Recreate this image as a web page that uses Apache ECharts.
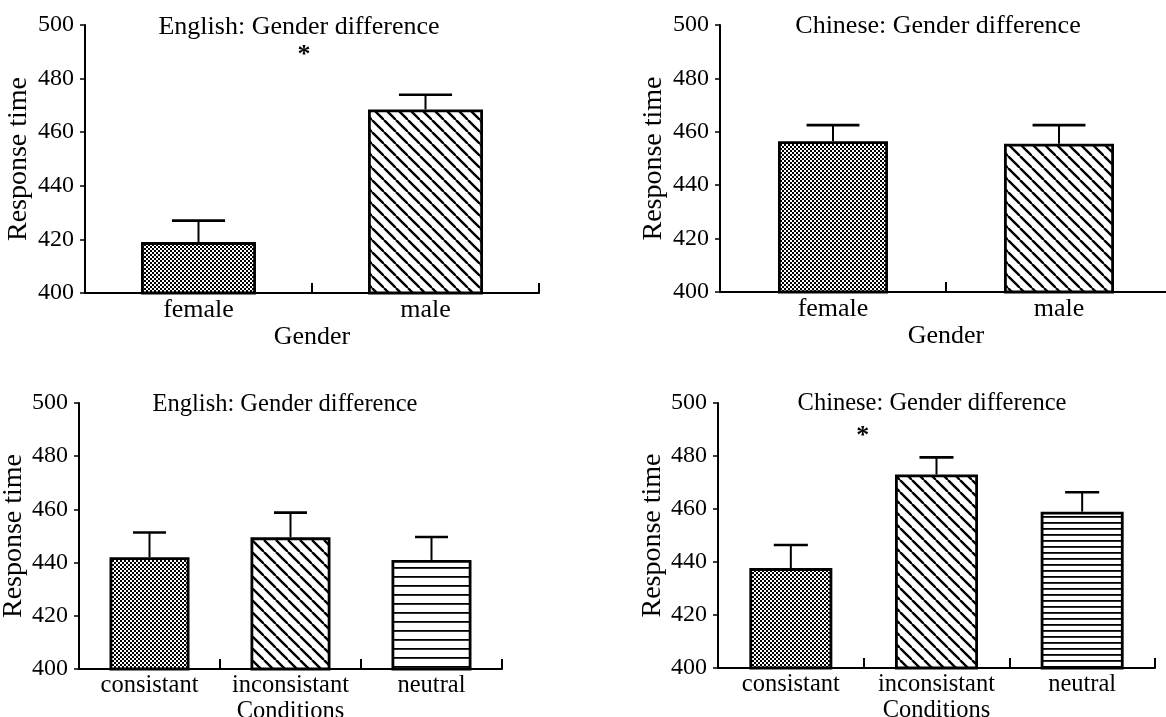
<!DOCTYPE html>
<html>
<head>
<meta charset="utf-8">
<script src="https://cdn.jsdelivr.net/npm/echarts@6/dist/echarts.min.js"></script>
<style>
html,body{margin:0;padding:0;background:#fff;}
#main{width:1166px;height:717px;}
</style>
</head>
<body>
<div id="main"></div>
<script>
// ---- data ----
const genderCats = ['female', 'male'];
const condCats = ['consistant', 'inconsistant', 'neutral'];
const engGenderMean = [419, 468.5];
const engGenderErr = [8, 5.5];
const chiGenderMean = [456.5, 455.5];
const chiGenderErr = [6, 7];
const engCondMean = [442, 449.5, 441];
const engCondErr = [9.3, 9.3, 8.6];
const chiCondMean = [437.7, 473, 459];
const chiCondErr = [8.7, 6.5, 7.3];
const yTicks = [400, 420, 440, 460, 480, 500];
const panelTitles = ['English: Gender difference', 'Chinese: Gender difference', 'English: Gender difference', 'Chinese: Gender difference'];

// ---- patterns ----
function stipple() {
  const c = document.createElement('canvas'); c.width = 4; c.height = 4;
  const g = c.getContext('2d');
  g.fillStyle = '#fff'; g.fillRect(0, 0, 4, 4);
  g.fillStyle = '#000'; g.fillRect(0, 0, 2, 2); g.fillRect(2, 2, 2, 2);
  return c;
}
function hatch(p) {
  const c = document.createElement('canvas'); c.width = p; c.height = p;
  const g = c.getContext('2d');
  g.fillStyle = '#fff'; g.fillRect(0, 0, p, p);
  g.strokeStyle = '#000'; g.lineWidth = 2.4;
  for (const x0 of [-p, 0, p]) { g.beginPath(); g.moveTo(x0, 0); g.lineTo(x0 + p, p); g.stroke(); }
  return c;
}
function hlines(s) {
  const c = document.createElement('canvas'); c.width = 4; c.height = s;
  const g = c.getContext('2d');
  g.fillStyle = '#fff'; g.fillRect(0, 0, 4, s);
  g.fillStyle = '#000'; g.fillRect(0, 0, 4, 1.8);
  return c;
}
const pStip = { image: stipple(), repeat: 'repeat' };
const pHatch = { image: hatch(12), repeat: 'repeat' };
const pH3 = { image: hlines(9), repeat: 'repeat' };
const pH4 = { image: hlines(6), repeat: 'repeat' };

const FONT = 'Liberation Serif';

const panels = [
  { cats: genderCats, mean: engGenderMean, err: engGenderErr, grid: { left: 85, top: 25, width: 454, height: 268 }, barW: 115, fills: [pStip, pHatch], fs: 26, xName: 'Gender', nameGapY: 52 },
  { cats: genderCats, mean: chiGenderMean, err: chiGenderErr, grid: { left: 720, top: 25, width: 452, height: 267 }, barW: 110, fills: [pStip, pHatch], fs: 26, xName: 'Gender', nameGapY: 52 },
  { cats: condCats, mean: engCondMean, err: engCondErr, grid: { left: 79, top: 403, width: 423, height: 266 }, barW: 80, fills: [pStip, pHatch, pH3], fs: 24.5, xName: 'Conditions', nameGapY: 47 },
  { cats: condCats, mean: chiCondMean, err: chiCondErr, grid: { left: 718, top: 403, width: 437, height: 265 }, barW: 83, fills: [pStip, pHatch, pH4], fs: 24.5, xName: 'Conditions', nameGapY: 50 }
];

const grids = [], xAxes = [], yAxes = [], series = [];
panels.forEach((p, k) => {
  grids.push(Object.assign({ outerBoundsMode: 'none', containLabel: false }, p.grid));
  xAxes.push({
    type: 'category', gridIndex: k, data: p.cats, boundaryGap: true,
    axisLine: { show: true, lineStyle: { color: '#000', width: 2 } },
    axisTick: { show: true, inside: true, length: 10, alignWithLabel: false, lineStyle: { color: '#000', width: 2 }, interval: 0 },
    axisLabel: { color: '#000', fontFamily: FONT, fontSize: p.fs, margin: 4, interval: 0, hideOverlap: false },
    name: p.xName, nameLocation: 'middle', nameGap: 27,
    nameTextStyle: { color: '#000', fontFamily: FONT, fontSize: p.fs }
  });
  yAxes.push({
    type: 'value', gridIndex: k, min: 400, max: 500, interval: 20,
    axisLine: { show: true, lineStyle: { color: '#000', width: 2 } },
    axisTick: { show: true, length: 5, lineStyle: { color: '#000', width: 1.5 } },
    splitLine: { show: false },
    axisLabel: { color: '#000', fontFamily: FONT, fontSize: 24, margin: 11 },
    name: 'Response time', nameLocation: 'middle', nameGap: p.nameGapY, nameRotate: 90,
    nameTextStyle: { color: '#000', fontFamily: FONT, fontSize: 28 }
  });
  series.push({
    type: 'bar', xAxisIndex: k, yAxisIndex: k, barWidth: p.barW,
    data: p.mean.map((v, i) => ({ value: v, itemStyle: { color: p.fills[i] } })),
    itemStyle: { borderColor: '#000', borderWidth: 2.8 },
    silent: true, animation: false
  });
  series.push({
    type: 'custom', xAxisIndex: k, yAxisIndex: k, z: 1,
    data: p.mean.map((v, i) => [i, v, p.err[i]]),
    encode: { x: 0, y: 1 },
    renderItem: function (params, api) {
      const i = api.value(0), m = api.value(1), e = api.value(2);
      const b = api.coord([i, m]);
      const t = api.coord([i, m + e]);
      const half = api.size([1, 0])[0] * 0.117;
      return {
        type: 'group', children: [
          { type: 'line', shape: { x1: b[0], y1: b[1], x2: t[0], y2: t[1] }, style: { stroke: '#000', lineWidth: 2 } },
          { type: 'line', shape: { x1: t[0] - half, y1: t[1], x2: t[0] + half, y2: t[1] }, style: { stroke: '#000', lineWidth: 2.6 } }
        ]
      };
    },
    silent: true, animation: false
  });
});

const titlePos = [[299, 27, 26], [938, 26, 26], [285, 405, 24.5], [932, 404, 24.5]];
const chart = echarts.init(document.getElementById('main'), null, { renderer: 'canvas' });
chart.setOption({
  backgroundColor: '#fff', animation: false,
  grid: grids, xAxis: xAxes, yAxis: yAxes, series: series
});

// significance asterisks, placed between categories in data space
const stars = [{ k: 0, between: [0, 1], y: 489, dx: -8 }, { k: 3, between: [0, 1], y: 488, dx: -1 }];
const starGraphics = stars.map(s => {
  const a = chart.convertToPixel({ gridIndex: s.k }, [s.between[0], s.y]);
  const b = chart.convertToPixel({ gridIndex: s.k }, [s.between[1], s.y]);
  return {
    type: 'text', x: (a[0] + b[0]) / 2 + s.dx, y: a[1] + 1,
    style: { text: '*', fill: '#000', font: 'bold 26px "' + FONT + '"', textAlign: 'center', textVerticalAlign: 'middle' }
  };
});
chart.setOption({
  graphic: titlePos.map((t, k) => ({
    type: 'text', x: t[0], y: t[1],
    style: { text: panelTitles[k], fill: '#000', font: t[2] + 'px "' + FONT + '"', textAlign: 'center', textVerticalAlign: 'middle' }
  })).concat(starGraphics)
});
</script>
</body>
</html>
